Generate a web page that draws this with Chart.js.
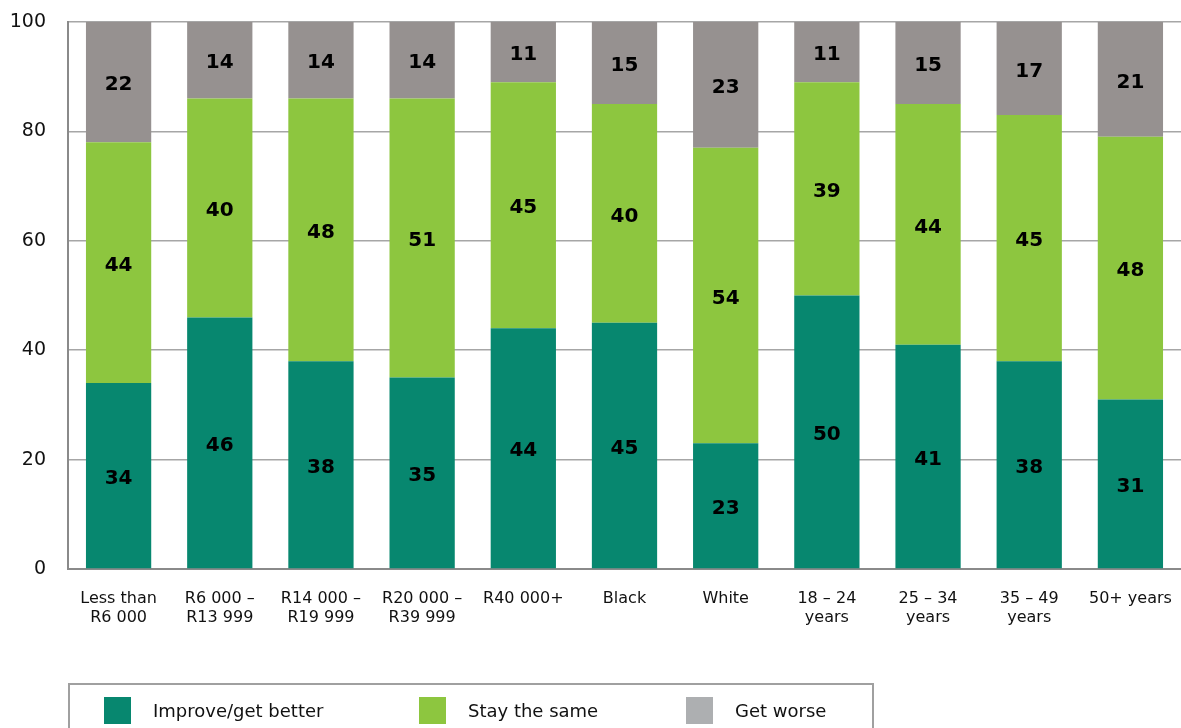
<!DOCTYPE html>
<html>
<head>
<meta charset="utf-8">
<script src="https://cdn.jsdelivr.net/npm/chart.js@4/dist/chart.umd.min.js"></script>
<style>
  html, body { margin: 0; padding: 0; background: #fff; }
  #wrap { position: relative; width: 1181px; height: 728px; overflow: hidden; }
  #legend {
    position: absolute; left: 68px; top: 683px; width: 806px; height: 60px;
    border: 2px solid #a0a0a0; box-sizing: border-box;
    font-family: "DejaVu Sans", Verdana, sans-serif; font-size: 18px; color: #111;
  }
  .item { position: absolute; top: 12px; height: 27px; line-height: 27px; }
  .sw { position: absolute; left: 0; top: 0; width: 27px; height: 27px; }
  .txt { position: absolute; left: 49px; top: 0; white-space: nowrap; }
</style>
</head>
<body>
<div id="wrap">
  <canvas id="chart" width="1181" height="728"></canvas>
  <div id="legend">
    <div class="item" style="left:34px"><div class="sw" style="background:#07876f"></div><div class="txt">Improve/get better</div></div>
    <div class="item" style="left:349px"><div class="sw" style="background:#8dc63f"></div><div class="txt">Stay the same</div></div>
    <div class="item" style="left:616px"><div class="sw" style="background:#adafb1"></div><div class="txt">Get worse</div></div>
  </div>
</div>
<script>
const categories = [
  ["Less than", "R6 000"],
  ["R6 000 \u2013", "R13 999"],
  ["R14 000 \u2013", "R19 999"],
  ["R20 000 \u2013", "R39 999"],
  "R40 000+",
  "Black",
  "White",
  ["18 \u2013 24", "years"],
  ["25 \u2013 34", "years"],
  ["35 \u2013 49", "years"],
  "50+ years"
];
const improve = [34, 46, 38, 35, 44, 45, 23, 50, 41, 38, 31];
const stay = [44, 40, 48, 51, 45, 40, 54, 39, 44, 45, 48];
const worse = [22, 14, 14, 14, 11, 15, 23, 11, 15, 17, 21];
const yTicks = [0, 20, 40, 60, 80, 100];

const font = "'DejaVu Sans', Verdana, sans-serif";

// numbers in the middle of each segment
const segLabels = {
  id: 'segLabels',
  afterDatasetsDraw(chart) {
    const ctx = chart.ctx;
    ctx.save();
    ctx.font = "bold 20px " + font;
    ctx.fillStyle = "#000";
    ctx.textAlign = "center";
    ctx.textBaseline = "middle";
    chart.data.datasets.forEach((ds, i) => {
      chart.getDatasetMeta(i).data.forEach((bar, j) => {
        const mid = (bar.y + bar.base) / 2;
        ctx.fillText(ds.data[j], bar.x, mid + 3);
      });
    });
    ctx.restore();
  }
};

new Chart(document.getElementById('chart'), {
  type: 'bar',
  data: {
    labels: categories,
    datasets: [
      { label: 'Improve/get better', data: improve, backgroundColor: '#07876f' },
      { label: 'Stay the same', data: stay, backgroundColor: '#8dc63f' },
      { label: 'Get worse', data: worse, backgroundColor: '#969190' }
    ]
  },
  options: {
    responsive: false,
    animation: false,
    layout: { padding: { top: 22, right: -4, left: 0, bottom: 0 } },
    datasets: { bar: { categoryPercentage: 1, barPercentage: 0.645 } },
    plugins: { legend: { display: false }, tooltip: { enabled: false } },
    scales: {
      x: {
        stacked: true,
        grid: { display: false, drawTicks: false },
        border: { color: '#8a8a8a', width: 2 },
        ticks: { font: { family: font, size: 16 }, color: '#111', padding: 20, maxRotation: 0, autoSkip: false },
        afterFit(scale) {
          scale.height = 159;
          scale.paddingLeft = 0;
          scale.paddingRight = 0;
        }
      },
      y: {
        stacked: true,
        min: 0,
        max: 100,
        afterBuildTicks(scale) { scale.ticks = yTicks.map(v => ({ value: v })); },
        grid: { color: '#a6a6a6', lineWidth: 1.5, drawTicks: false },
        border: { color: '#8a8a8a', width: 2 },
        ticks: { font: { family: font, size: 19 }, color: '#111', padding: 22 },
        afterFit(scale) {
          scale.width = 68;
          scale.paddingTop = 0;
          scale.paddingBottom = 0;
        }
      }
    }
  },
  plugins: [segLabels]
});
</script>
</body>
</html>
